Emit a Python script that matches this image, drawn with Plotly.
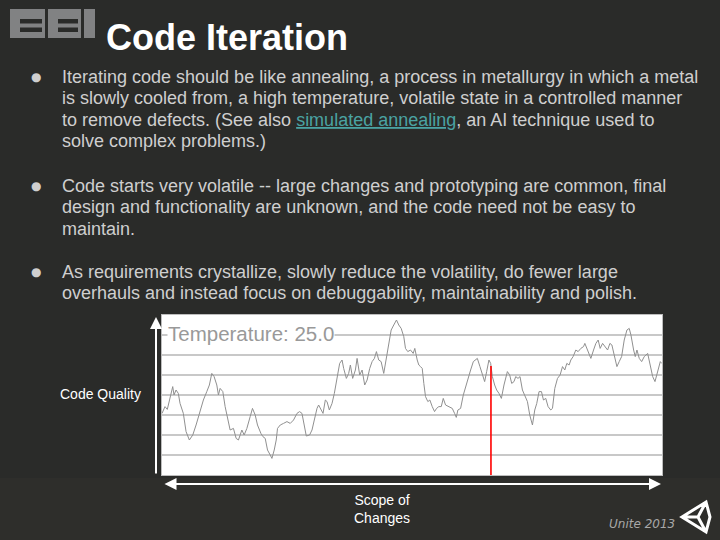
import plotly.graph_objects as go

# ---- data ----
scope_x = [0, 3, 5.3, 7.3, 10.7, 12, 14, 16.3, 18, 21.3, 24, 27.3, 30.7, 34, 38, 41.3, 44.7, 47.3, 49.7, 52,
           54.7, 56.3, 58, 60.7, 63, 68, 71.3, 74, 76.3, 79.7, 82, 84.7, 88, 90.3, 93, 95.3, 98.7, 100.7, 103, 105.3,
           108, 109.7, 112, 114, 115.3, 118, 121.3, 124.7, 128, 131.3, 134.7, 137.3, 139.7, 142, 144, 147.3, 149.7, 152, 154.7, 156.3,
           158.7, 160.7, 163, 164.7, 167, 169.7, 172, 174.7, 177.3, 179.7, 181.3, 184, 186.3, 188, 190.3, 193, 194.7, 197.3, 199.7, 202.3,
           204.7, 207.3, 209.7, 212, 214, 216.3, 218.7, 221.3, 224, 226.3, 228.7, 231.3, 234, 236.3, 238.7, 241.3, 243, 245.3, 248, 250.7,
           252.3, 254.7, 256.3, 258, 259.7, 261.3, 263, 265.3, 267.3, 269.7, 272, 274, 276.3, 278.7, 280.7, 283, 286.3, 289.7, 292, 293.7,
           295.3, 298, 300.7, 303, 305.3, 308, 310.7, 313, 314.7, 317.3, 319.7, 322, 324, 326.3, 328, 329.7, 332, 334, 336.3, 338.7,
           341.3, 343, 344.7, 347, 349, 351.3, 353, 355.3, 357.3, 359.7, 362, 364.7, 367, 369.7, 372, 374, 376.3, 378.7, 380.7, 383,
           385.3, 388, 389.7, 392, 394.7, 397.3, 399.7, 402, 404, 406.3, 408, 410.3, 413, 415.3, 418, 420.7, 422, 424.7, 428, 430.7,
           433, 435.3, 437.3, 439.7, 442, 444.7, 447, 449, 451.3, 454, 456.3, 458.7, 461.3, 464, 466.3, 468, 470.7, 472.3, 474, 476.3,
           478.7, 481.3, 484.7, 487.3, 489.7, 492, 494.7, 497.3, 498.7]
quality_y = [3.08, 3.42, 3.28, 3.75, 4.42, 4.0, 4.25, 4.08, 3.58, 3.08, 2.17, 1.75, 2.0, 2.5, 3.25, 3.75, 4.17, 4.5, 5.08, 4.92,
             4.5, 4.0, 4.33, 4.17, 3.42, 2.25, 2.33, 1.83, 1.75, 2.25, 2.0, 2.33, 2.92, 3.33, 3.0, 2.5, 2.08, 1.92, 1.83, 1.25,
             1.0, 0.83, 1.25, 1.75, 2.33, 2.5, 2.58, 2.67, 2.58, 2.75, 3.08, 3.17, 3.08, 2.42, 1.95, 2.0, 2.25, 2.75, 3.33, 3.5,
             3.25, 3.08, 3.75, 3.67, 3.25, 3.58, 4.08, 4.75, 5.58, 5.75, 5.33, 4.83, 5.08, 5.5, 4.83, 5.25, 5.83, 5.0, 5.25, 4.5,
             4.75, 5.33, 5.67, 5.83, 6.17, 5.75, 5.67, 5.08, 5.92, 6.58, 7.25, 7.5, 7.75, 7.5, 7.33, 6.92, 6.33, 6.17, 6.25, 6.08,
             6.33, 5.75, 5.5, 5.42, 5.33, 4.58, 3.92, 3.67, 3.75, 3.42, 3.17, 3.33, 3.42, 3.42, 3.83, 3.5, 3.42, 3.33, 3.08, 2.88,
             3.25, 3.33, 4.0, 4.42, 4.75, 5.25, 5.67, 5.75, 5.83, 5.42, 5.08, 4.67, 5.17, 5.75, 5.58, 4.92, 4.5, 4.25, 4.08, 3.83,
             4.5, 4.83, 5.17, 5.0, 4.58, 4.67, 4.92, 4.83, 4.92, 4.25, 4.0, 3.67, 3.0, 2.5, 3.25, 3.58, 4.17, 4.17, 3.75, 3.83,
             3.42, 3.25, 3.33, 4.33, 4.83, 5.0, 5.42, 5.25, 5.58, 5.5, 5.75, 5.92, 6.25, 6.17, 6.33, 6.42, 6.58, 6.25, 5.83, 6.25,
             6.58, 6.75, 6.33, 6.58, 6.42, 6.25, 6.58, 6.5, 6.0, 5.42, 5.67, 5.92, 6.75, 7.25, 7.33, 7.0, 6.25, 5.92, 6.25, 5.83,
             5.67, 5.92, 6.08, 5.42, 4.92, 4.67, 5.17, 5.67, 5.58]
current_x = 328.3
current_y = 5.45
temperature = 25.0

title = "Code Iteration"
bullets = [
    ["Iterating code should be like annealing, a process in metallurgy in which a metal",
     "is slowly cooled from, a high temperature, volatile state in a controlled manner",
     "to remove defects. (See also <span style='color:#4aa3a3'><u>simulated annealing</u></span>, an AI technique used to",
     "solve complex problems.)"],
    ["Code starts very volatile -- large changes and prototyping are common, final",
     "design and functionality are unknown, and the code need not be easy to",
     "maintain."],
    ["As requirements crystallize, slowly reduce the volatility, do fewer large",
     "overhauls and instead focus on debuggability, maintainability and polish."],
]
bullet_tops = [77, 186, 272]

W, H = 720, 540
def px(x):
    return x / W
def py(y):
    return 1 - y / H

FONT = "Liberation Sans, Arial, sans-serif"
TEXT = "#cfcfcf"
BG = "#2a2b29"

fig = go.Figure()
fig.add_trace(go.Scatter(x=scope_x, y=quality_y, mode="lines",
                         line=dict(color="#909090", width=1), hoverinfo="skip"))
fig.add_trace(go.Scatter(x=[current_x, current_x], y=[0, current_y], mode="lines",
                         line=dict(color="#ff0000", width=1.6), hoverinfo="skip"))

annotations = []
annotations.append(dict(text="<b>" + title + "</b>", x=px(104), y=py(37), xref="paper", yref="paper",
                        xanchor="left", yanchor="middle", showarrow=False,
                        font=dict(family=FONT, size=36, color="white")))
for top, lines in zip(bullet_tops, bullets):
    annotations.append(dict(text="●", x=px(36), y=py(top), xref="paper", yref="paper",
                            xanchor="center", yanchor="middle", showarrow=False,
                            font=dict(family="DejaVu Sans", size=12, color=TEXT)))
    for i, ln in enumerate(lines):
        annotations.append(dict(text=ln, x=px(60), y=py(top + i * 21.4), xref="paper", yref="paper",
                                xanchor="left", yanchor="middle", showarrow=False,
                                font=dict(family=FONT, size=18, color=TEXT)))
annotations.append(dict(text="Temperature: %.1f" % temperature, x=5, y=7.1, xref="x", yref="y",
                        xanchor="left", yanchor="middle", showarrow=False, bgcolor="white",
                        borderpad=0, font=dict(family=FONT, size=20.5, color="#999999")))
annotations.append(dict(text="Code Quality", x=px(100), y=py(394), xref="paper", yref="paper",
                        xanchor="center", yanchor="middle", showarrow=False,
                        font=dict(family=FONT, size=14, color="white")))
annotations.append(dict(text="Scope of<br>Changes", x=px(382), y=py(509), xref="paper", yref="paper",
                        xanchor="center", yanchor="middle", showarrow=False,
                        font=dict(family=FONT, size=14, color="white")))
annotations.append(dict(text="<i>Unite 2013</i>", x=px(642), y=py(524), xref="paper", yref="paper",
                        xanchor="center", yanchor="middle", showarrow=False,
                        font=dict(family="DejaVu Sans", size=12, color="#a8a8a8")))
annotations.append(dict(text="", x=px(156), y=py(317), xref="paper", yref="paper",
                        ax=0, ay=158, showarrow=True, arrowhead=2, arrowsize=1.2,
                        arrowwidth=2, arrowcolor="white"))
annotations.append(dict(text="", x=px(661), y=py(484), xref="paper", yref="paper",
                        ax=-498, ay=0, showarrow=True, arrowhead=2, startarrowhead=2,
                        arrowsize=1.2, startarrowsize=1.2, arrowside="end+start",
                        arrowwidth=2, arrowcolor="white"))

shapes = []
shapes.append(dict(type="rect", xref="paper", yref="paper", x0=0, x1=1, y0=0, y1=py(478),
                   fillcolor="#2e2e2b", line=dict(width=0), layer="below"))
logo = "#818283"
for x0, x1 in [(10, 45), (48, 81)]:
    shapes.append(dict(type="rect", xref="paper", yref="paper", x0=px(x0), x1=px(x1), y0=py(38), y1=py(9),
                       fillcolor=logo, line=dict(width=0)))
    for s0, s1 in [(19, 23.5), (27.5, 32)]:
        shapes.append(dict(type="rect", xref="paper", yref="paper", x0=px(x0 + 10), x1=px(x1 - 3),
                           y0=py(s1), y1=py(s0), fillcolor=BG, line=dict(width=0)))
shapes.append(dict(type="rect", xref="paper", yref="paper", x0=px(84), x1=px(95), y0=py(38), y1=py(9),
                   fillcolor=logo, line=dict(width=0)))
def P(x, y):
    return "%.4f,%.4f" % (px(x), py(y))
path = ("M" + P(682, 517) + " L" + P(706, 502) + " L" + P(710, 517) + " L" + P(706, 532) + " Z"
        " M" + P(698, 517) + " L" + P(682, 517) + " M" + P(698, 517) + " L" + P(706, 502) +
        " M" + P(698, 517) + " L" + P(706, 532))
shapes.append(dict(type="path", xref="paper", yref="paper", path=path,
                   line=dict(color="white", width=3)))

fig.update_layout(
    width=W, height=H, margin=dict(l=0, r=0, t=0, b=0),
    paper_bgcolor=BG, plot_bgcolor="white", showlegend=False,
    font=dict(family=FONT),
    xaxis=dict(domain=[px(162), px(662)], range=[0, 499], showgrid=False, zeroline=False,
               showticklabels=False, ticks="", showline=True, linecolor="#bdbdbd", linewidth=1, mirror=True,
               fixedrange=True),
    yaxis=dict(domain=[py(475), py(315)], range=[0, 8], dtick=1, showgrid=True, gridcolor="#c8c8c8",
               gridwidth=1.5, zeroline=False, showticklabels=False, ticks="", showline=True,
               linecolor="#bdbdbd", linewidth=1, mirror=True, fixedrange=True),
    annotations=annotations, shapes=shapes,
)

fig.write_html("out.html", config={"displayModeBar": False},
               post_script="document.body.style.margin='0';document.body.style.background='%s';" % BG)
